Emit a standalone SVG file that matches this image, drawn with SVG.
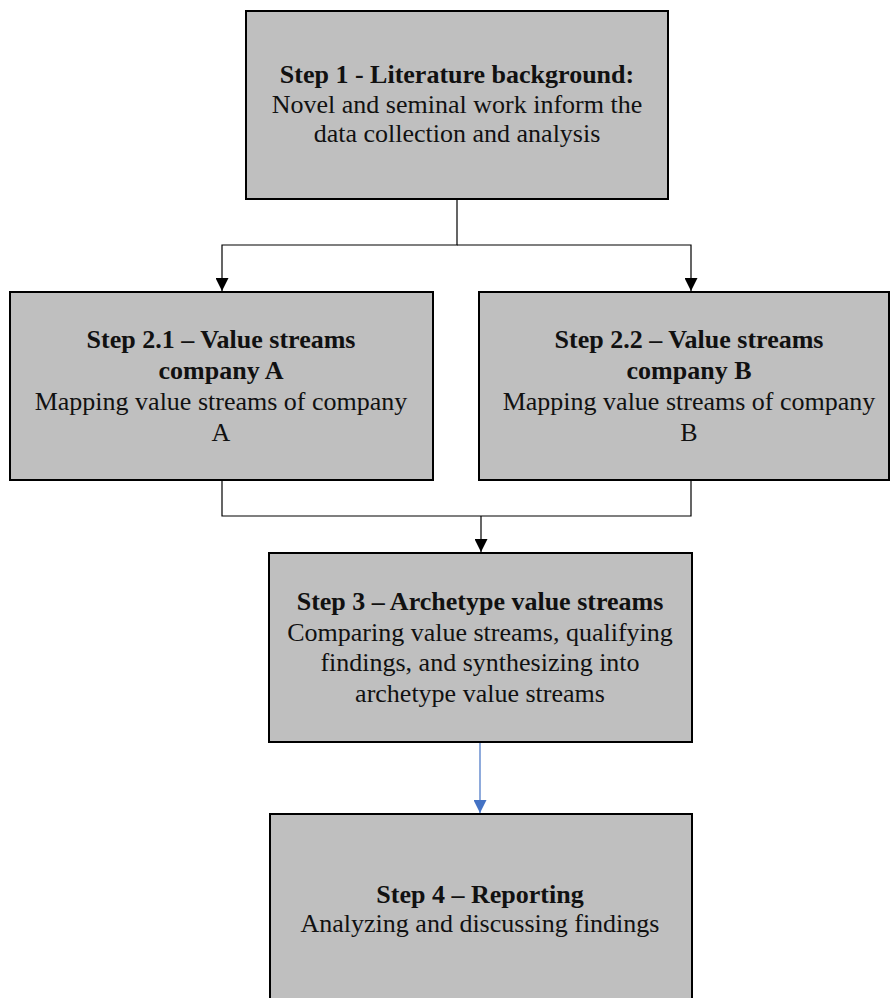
<svg xmlns="http://www.w3.org/2000/svg" width="891" height="998" viewBox="0 0 891 998">
  <style>
    .box { fill: #bfbfbf; stroke: #000; stroke-width: 2; }
    .t { font-family: "Liberation Serif", "Times New Roman", serif; font-size: 26px; fill: #111; text-anchor: middle; }
    .b { font-weight: bold; }
    .conn { fill: none; stroke: #000; stroke-width: 1.2; }
    .blue { fill: none; stroke: #4472c4; stroke-width: 1.2; }
  </style>
  <defs>
    <marker id="ah" markerUnits="userSpaceOnUse" markerWidth="13" markerHeight="13" viewBox="0 0 13 13" refX="13" refY="6.5" orient="auto">
      <path d="M0,0 L13,6.5 L0,13 z" fill="#000"/>
    </marker>
    <marker id="ahb" markerUnits="userSpaceOnUse" markerWidth="13" markerHeight="13" viewBox="0 0 13 13" refX="13" refY="6.5" orient="auto">
      <path d="M0,0 L13,6.5 L0,13 z" fill="#4472c4"/>
    </marker>
  </defs>

  <g id="connectors">
    <path class="conn" d="M457,199 V245 H222 V291" marker-end="url(#ah)"/>
    <path class="conn" d="M457,245 H691 V291" marker-end="url(#ah)"/>
    <path class="conn" d="M222,480 V516 H691 V480"/>
    <path class="conn" d="M481,516 V552" marker-end="url(#ah)"/>
    <path class="blue" d="M480,742 V813" marker-end="url(#ahb)"/>
  </g>

  <g id="step1">
    <rect class="box" x="246" y="11" width="422" height="188"/>
    <text class="t b" x="457" y="83">Step 1 - Literature background:</text>
    <text class="t" x="457" y="113">Novel and seminal work inform the</text>
    <text class="t" x="457" y="142">data collection and analysis</text>
  </g>

  <g id="step2_1">
    <rect class="box" x="10" y="292" width="423" height="188"/>
    <text class="t b" x="221" y="348">Step 2.1 – Value streams</text>
    <text class="t b" x="221" y="379">company A</text>
    <text class="t" x="221" y="410">Mapping value streams of company</text>
    <text class="t" x="221" y="441">A</text>
  </g>

  <g id="step2_2">
    <rect class="box" x="479" y="292" width="410" height="188"/>
    <text class="t b" x="689" y="348">Step 2.2 – Value streams</text>
    <text class="t b" x="689" y="379">company B</text>
    <text class="t" x="689" y="410">Mapping value streams of company</text>
    <text class="t" x="689" y="441">B</text>
  </g>

  <g id="step3">
    <rect class="box" x="269" y="553" width="423" height="189"/>
    <text class="t b" x="480" y="610">Step 3 – Archetype value streams</text>
    <text class="t" x="480" y="641">Comparing value streams, qualifying</text>
    <text class="t" x="480" y="671">findings, and synthesizing into</text>
    <text class="t" x="480" y="702">archetype value streams</text>
  </g>

  <g id="step4">
    <rect class="box" x="270" y="814" width="422" height="200"/>
    <text class="t b" x="480" y="903">Step 4 – Reporting</text>
    <text class="t" x="480" y="932">Analyzing and discussing findings</text>
  </g>
</svg>
